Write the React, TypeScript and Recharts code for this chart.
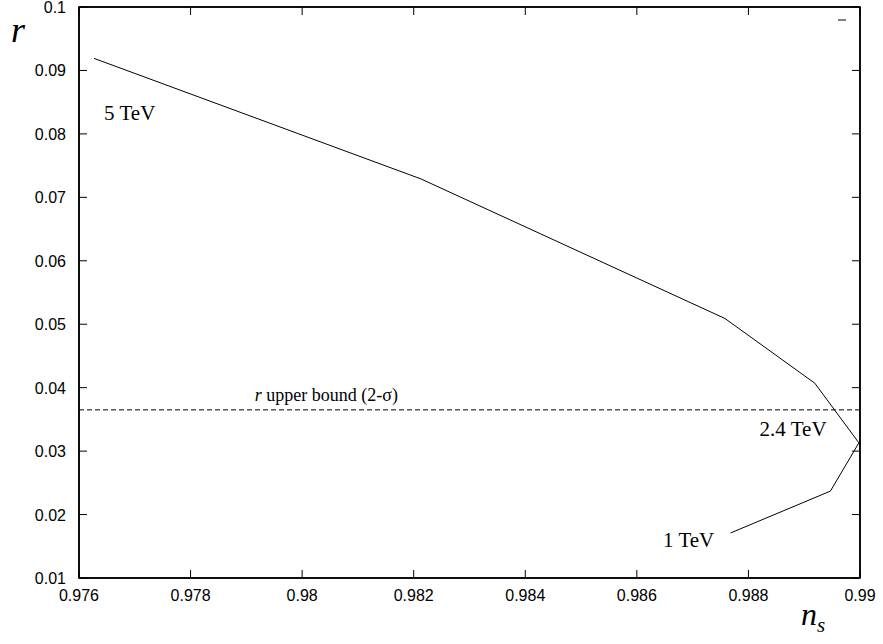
import React from 'react';
import { LineChart, Line, XAxis, YAxis, ReferenceLine, ReferenceDot, ReferenceArea } from 'recharts';

// Curve data (n_s, r)
const nsValues = [0.97627, 0.98213, 0.98758, 0.98919, 0.98998, 0.98947, 0.98768];
const rValues = [0.0919, 0.0729, 0.0509, 0.0407, 0.0313, 0.0237, 0.0171];

// Axis ticks
const xTicks = [0.976, 0.978, 0.98, 0.982, 0.984, 0.986, 0.988, 0.99];
const xTickLabels = ['0.976', '0.978', '0.98', '0.982', '0.984', '0.986', '0.988', '0.99'];
const yTicks = [0.01, 0.02, 0.03, 0.04, 0.05, 0.06, 0.07, 0.08, 0.09, 0.1];
const yTickLabels = ['0.01', '0.02', '0.03', '0.04', '0.05', '0.06', '0.07', '0.08', '0.09', '0.1'];

// r upper bound (2-sigma)
const rUpperBound = 0.0365;

// Annotations (text start / baseline, in data coordinates)
const annotationTexts = ['5 TeV', '2.4 TeV', '1 TeV'];
const annotationNs = [0.97645, 0.9882, 0.98647];
const annotationR = [0.08218, 0.03233, 0.01483];
const boundLabelNs = 0.97915;
const boundLabelR = 0.03786;

const data = nsValues.map((ns, i) => ({ ns, r: rValues[i] }));

const SANS = '"Liberation Sans", Arial, sans-serif';
const SERIF = '"Liberation Serif", "Times New Roman", serif';
const TICK_LEN = 8;
const PLOT_H = 571;

const fmtX = (v: number) => {
  const i = xTicks.findIndex((t) => Math.abs(t - v) < 1e-9);
  return i >= 0 ? xTickLabels[i] : String(v);
};
const fmtY = (v: number) => {
  const i = yTicks.findIndex((t) => Math.abs(t - v) < 1e-9);
  return i >= 0 ? yTickLabels[i] : String(v);
};

const BottomTick = (props: any) => {
  const { x, y, payload } = props;
  return (
    <g>
      <line x1={x} y1={y} x2={x} y2={y - TICK_LEN} stroke="#000" strokeWidth={1} />
      <line x1={x} y1={y - PLOT_H} x2={x} y2={y - PLOT_H + TICK_LEN} stroke="#000" strokeWidth={1} />
      <text x={x} y={y + 23} textAnchor="middle" fontFamily={SANS} fontSize={16} fill="#000">
        {fmtX(payload.value)}
      </text>
    </g>
  );
};
const LeftTick = (props: any) => {
  const { x, y, payload } = props;
  return (
    <g>
      <line x1={x} y1={y} x2={x + TICK_LEN} y2={y} stroke="#000" strokeWidth={1} />
      <text x={x - 13} y={y + 6} textAnchor="end" fontFamily={SANS} fontSize={16} fill="#000">
        {fmtY(payload.value)}
      </text>
    </g>
  );
};
const RightTick = (props: any) => {
  const { x, y } = props;
  return <line x1={x} y1={y} x2={x - TICK_LEN} y2={y} stroke="#000" strokeWidth={1} />;
};

const textLabel = (text: string, size: number) => (props: any) => {
  const vb = props.viewBox || {};
  const cx = (vb.x ?? 0) + (vb.width ?? 0) / 2;
  const cy = (vb.y ?? 0) + (vb.height ?? 0) / 2;
  return (
    <text x={cx} y={cy} fontFamily={SERIF} fontSize={size} fill="#000" textAnchor="start">
      {text}
    </text>
  );
};

const boundLabel = (props: any) => {
  const vb = props.viewBox || {};
  const cx = (vb.x ?? 0) + (vb.width ?? 0) / 2;
  const cy = (vb.y ?? 0) + (vb.height ?? 0) / 2;
  return (
    <text x={cx} y={cy} fontFamily={SERIF} fontSize={18} fill="#000" textAnchor="start">
      <tspan fontStyle="italic">r</tspan>
      <tspan> upper bound (2-σ)</tspan>
    </text>
  );
};

const yAxisTitle = (props: any) => {
  const vb = props.viewBox || {};
  return (
    <text x={(vb.x ?? 0) + 11} y={(vb.y ?? 0) + 35} fontFamily={SERIF} fontStyle="italic" fontSize={36} fill="#000">
      r
    </text>
  );
};

const xAxisTitle = (props: any) => {
  const vb = props.viewBox || {};
  const x0 = (vb.x ?? 0) + (vb.width ?? 0) - 59;
  const y0 = (vb.y ?? 0) + 47;
  return (
    <text x={x0} y={y0} fontFamily={SERIF} fontStyle="italic" fontSize={32} fill="#000">
      n
      <tspan fontSize={21} dy={7}>s</tspan>
    </text>
  );
};

const keyMark = (props: any) => {
  const vb = props.viewBox || {};
  const right = (vb.x ?? 0) + (vb.width ?? 0);
  const top = vb.y ?? 0;
  return <line x1={right - 22} x2={right - 14} y1={top + 13} y2={top + 13} stroke="#000" strokeWidth={1} />;
};

export default function App() {
  return (
    <div style={{ position: 'absolute', left: 0, top: 0, background: '#fff' }}>
      <LineChart width={883} height={644} data={data} margin={{ top: 7, right: 0, bottom: 0, left: 0 }}>
        <XAxis
          xAxisId="b"
          dataKey="ns"
          type="number"
          domain={[0.976, 0.99]}
          allowDataOverflow
          ticks={xTicks}
          interval={0}
          height={66}
          tickSize={0}
          tickMargin={0}
          tickLine={false}
          axisLine={{ stroke: '#000', strokeWidth: 1.5 }}
          tick={<BottomTick />}
          label={{ content: xAxisTitle }}
        />
        <YAxis
          yAxisId="l"
          type="number"
          domain={[0.01, 0.1]}
          allowDataOverflow
          ticks={yTicks}
          interval={0}
          width={79}
          tickSize={0}
          tickMargin={0}
          tickLine={false}
          axisLine={{ stroke: '#000', strokeWidth: 1.5 }}
          tick={<LeftTick />}
          label={{ content: yAxisTitle }}
        />
        <YAxis
          yAxisId="r"
          orientation="right"
          type="number"
          domain={[0.01, 0.1]}
          allowDataOverflow
          ticks={yTicks}
          interval={0}
          width={23}
          tickSize={0}
          tickMargin={0}
          tickLine={false}
          axisLine={{ stroke: '#000', strokeWidth: 1.5 }}
          tick={<RightTick />}
        />
        <ReferenceArea
          xAxisId="b"
          yAxisId="l"
          x1={0.976}
          x2={0.99}
          y1={0.01}
          y2={0.1}
          fill="none"
          fillOpacity={0}
          stroke="#000"
          strokeWidth={1.5}
          ifOverflow="visible"
        />
        <ReferenceLine
          xAxisId="b"
          yAxisId="l"
          y={rUpperBound}
          stroke="#000"
          strokeWidth={1}
          strokeDasharray="5 3"
        />
        <ReferenceLine
          xAxisId="b"
          yAxisId="l"
          y={0.1}
          stroke="#000"
          strokeWidth={1.5}
          ifOverflow="visible"
          label={{ content: keyMark }}
        />
        <Line
          xAxisId="b"
          yAxisId="l"
          dataKey="r"
          type="linear"
          stroke="#000"
          strokeWidth={1}
          dot={false}
          activeDot={false}
          isAnimationActive={false}
        />
        {annotationTexts.map((t, i) => (
          <ReferenceDot
            key={t}
            xAxisId="b"
            yAxisId="l"
            x={annotationNs[i]}
            y={annotationR[i]}
            r={0}
            fill="none"
            stroke="none"
            label={{ content: textLabel(t, 21) }}
          />
        ))}
        <ReferenceDot
          xAxisId="b"
          yAxisId="l"
          x={boundLabelNs}
          y={boundLabelR}
          r={0}
          fill="none"
          stroke="none"
          label={{ content: boundLabel }}
        />
      </LineChart>
    </div>
  );
}
